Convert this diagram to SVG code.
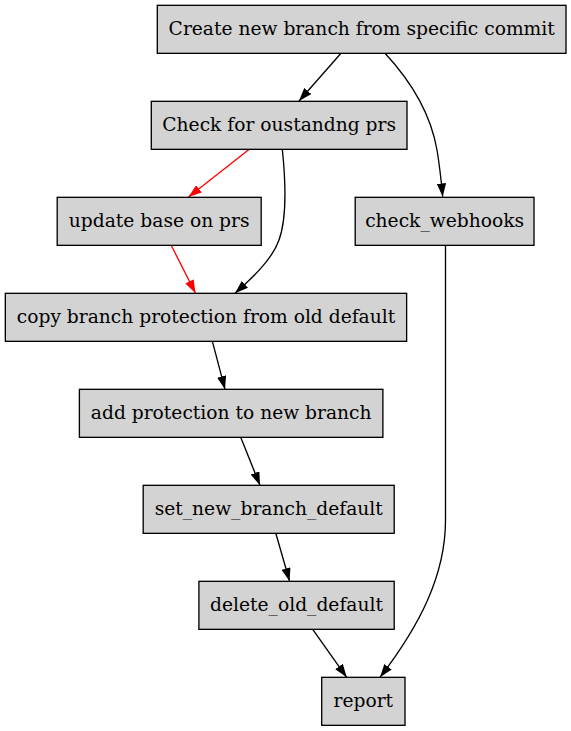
<svg xmlns="http://www.w3.org/2000/svg" width="571" height="731" viewBox="0 0 571 731">
<style>
.node rect{fill:#d3d3d3;stroke:#000;stroke-width:1.33}
.node text{font-family:"DejaVu Serif","Liberation Serif",serif;font-size:18.67px;text-anchor:middle;fill:#000}
.edge{fill:none;stroke:#000;stroke-width:1.33}
.red{stroke:#ff0000}
</style>
<defs>
<marker id="ah" viewBox="0 0 10 7" refX="10" refY="3.5" markerWidth="13.3" markerHeight="9.3" markerUnits="userSpaceOnUse" orient="auto">
<path d="M0,0 L10,3.5 L0,7 Z" fill="#000"/>
</marker>
<marker id="ahr" viewBox="0 0 10 7" refX="10" refY="3.5" markerWidth="13.3" markerHeight="9.3" markerUnits="userSpaceOnUse" orient="auto">
<path d="M0,0 L10,3.5 L0,7 Z" fill="#ff0000"/>
</marker>
</defs>
<rect width="571" height="731" fill="#fff"/>
<g id="edges">
<path class="edge" marker-end="url(#ah)" d="M341,53.3 L299,101"/>
<path class="edge" marker-end="url(#ah)" d="M385,53.3 C408,78 430,110 437,150 C439.5,165 441,178 442.7,196.7"/>
<path class="edge red" marker-end="url(#ahr)" d="M249.3,149.3 L188.5,197"/>
<path class="edge" marker-end="url(#ah)" d="M282.3,149.3 C285,175 288,215 279,240 C272,260 252,278 235,293.3"/>
<path class="edge red" marker-end="url(#ahr)" d="M171.2,245.3 L195.5,293.3"/>
<path class="edge" marker-end="url(#ah)" d="M212.4,341.3 L225,389.3"/>
<path class="edge" marker-end="url(#ah)" d="M240.7,437.3 L260,485.3"/>
<path class="edge" marker-end="url(#ah)" d="M275.8,533.3 L289.6,581.3"/>
<path class="edge" marker-end="url(#ah)" d="M312.7,629.3 L346.7,677.3"/>
<path class="edge" marker-end="url(#ah)" d="M445.5,245.3 L445.5,520 C445.5,575 420,625 380,677.3"/>
</g>
<g id="n1" class="node"><rect x="157.3" y="5.33" width="408.7" height="48"/><text x="361.7" y="34.9">Create new branch from specific commit</text></g>
<g id="n2" class="node"><rect x="151.3" y="101.33" width="255.7" height="48"/><text x="279.2" y="130.9">Check for oustandng prs</text></g>
<g id="n3" class="node"><rect x="57.2" y="197.33" width="204" height="48"/><text x="159.2" y="226.9">update base on prs</text></g>
<g id="n4" class="node"><rect x="355.2" y="197.33" width="178.8" height="48"/><text x="444.6" y="226.9">check_webhooks</text></g>
<g id="n5" class="node"><rect x="5.33" y="293.33" width="401.3" height="48"/><text x="206" y="322.9">copy branch protection from old default</text></g>
<g id="n6" class="node"><rect x="79.4" y="389.33" width="303.5" height="48"/><text x="231.2" y="418.9">add protection to new branch</text></g>
<g id="n7" class="node"><rect x="143.2" y="485.33" width="251" height="48"/><text x="268.7" y="514.9">set_new_branch_default</text></g>
<g id="n8" class="node"><rect x="198.9" y="581.33" width="195.3" height="48"/><text x="296.5" y="610.9">delete_old_default</text></g>
<g id="n9" class="node"><rect x="321.7" y="677.33" width="83.3" height="48"/><text x="363.3" y="706.9">report</text></g>
</svg>
